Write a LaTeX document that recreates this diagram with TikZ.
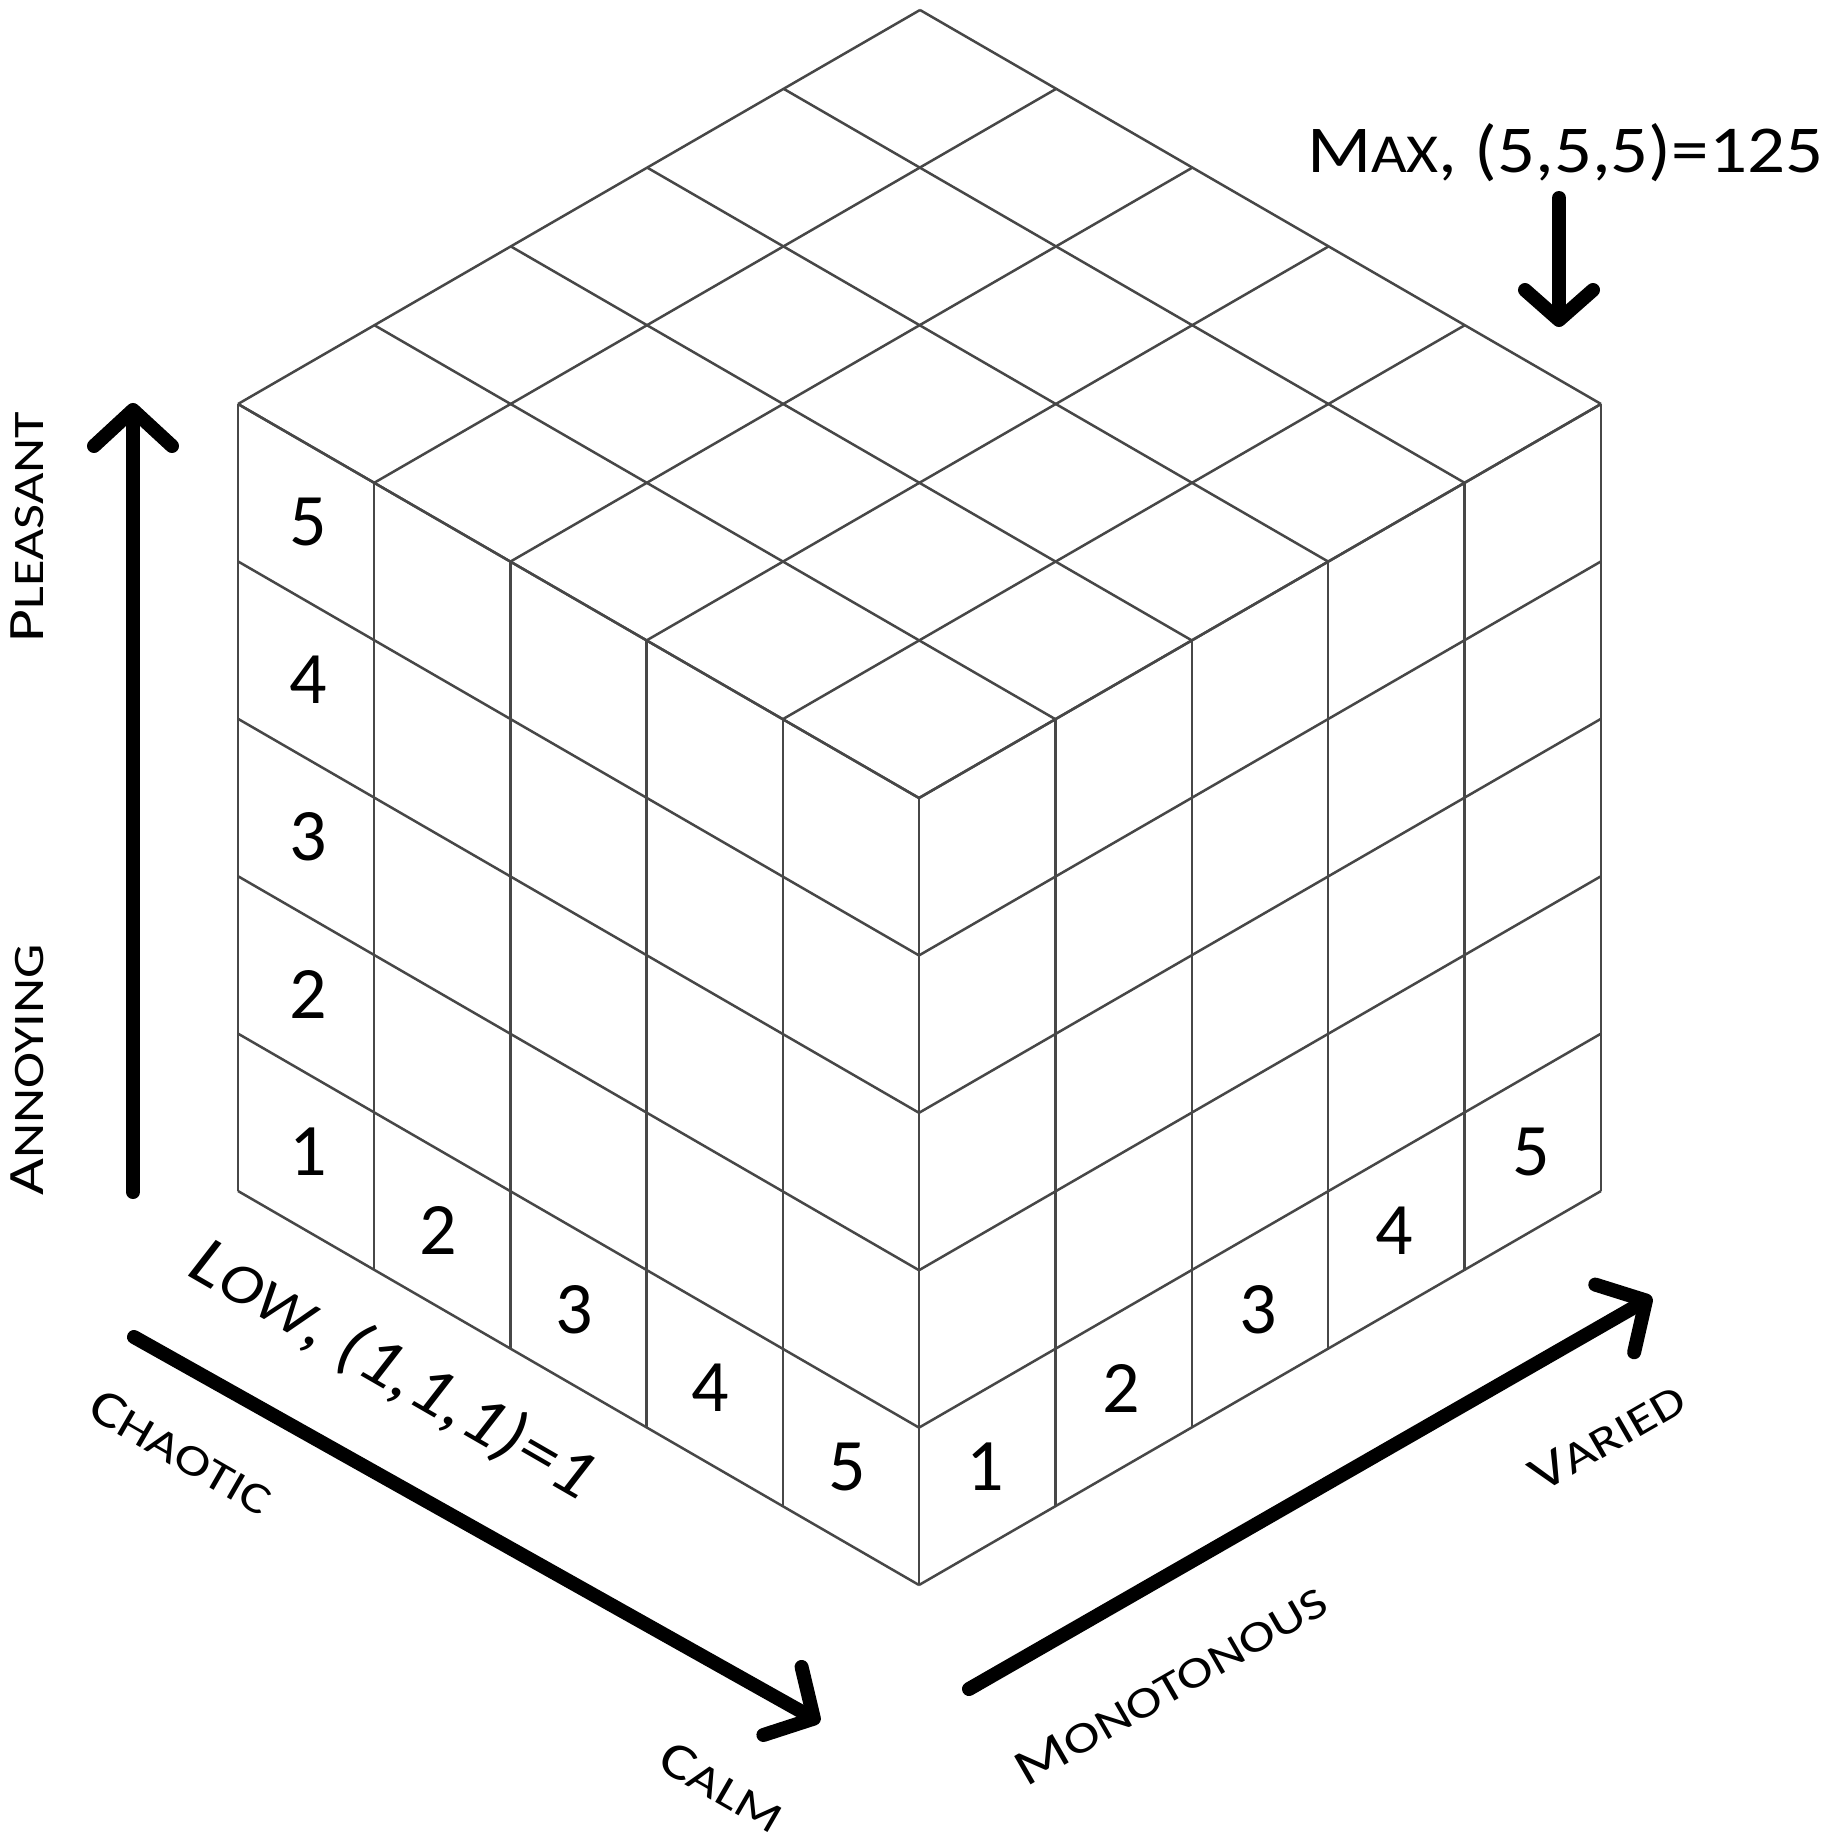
\documentclass[tikz,border=0pt]{standalone}
\usepackage{fontspec}
\setmainfont{Carlito}
\newfontfamily\lblfont[FakeStretch=1.25]{Carlito}
\newfontfamily\maxfont[FakeStretch=1.12]{Carlito}
\newfontfamily\lowfont[FakeStretch=1.12]{Carlito}
\usetikzlibrary{arrows.meta}
\newcommand\axlbl[2]{{\lblfont\fontsize{51}{51}\selectfont #1\fontsize{43.5}{43.5}\selectfont #2}}
\begin{document}
\begin{tikzpicture}[x=1pt,y=-1pt,
  grid/.style={draw=black!72, line width=2.5pt},
  bigarrow/.style={line width=14pt, line cap=round, -{Straight Barb[length=36pt,width=78pt,round]}},
  num/.style={inner sep=0pt, font=\fontsize{74}{74}\selectfont},
  axis/.style={inner sep=0pt},
]
\useasboundingbox (0,0) rectangle (1835,1841);
\fill[white] (0,0) rectangle (1835,1841);

% left face
\foreach \k in {0,...,5} \draw[grid] (238,{1191-157.4*\k}) -- ++(681,394);
\foreach \i in {0,...,5} \draw[grid] ({238+136.2*\i},{1191+78.8*\i}) -- ++(0,-787);
% right face
\foreach \k in {0,...,5} \draw[grid] (919,{1585-157.4*\k}) -- ++(682,-394);
\foreach \j in {0,...,5} \draw[grid] ({919+136.4*\j},{1585-78.8*\j}) -- ++(0,-787);
% top face
\foreach \j in {0,...,5} \draw[grid] ({238+136.4*\j},{404-78.8*\j}) -- ++(681,394);
\foreach \i in {0,...,5} \draw[grid] ({238+136.2*\i},{404+78.8*\i}) -- ++(682,-394);

% numbers, left column
\foreach \k [evaluate=\k as \n using int(\k+1)] in {0,...,4}
  \node[num] (lc\n) at (308,{1191+39.4-157.4*(\k+0.5)}) {\n};
% numbers, left bottom row
\foreach \i [evaluate=\i as \n using int(\i+1)] in {1,...,4}
  \node[num] (lb\n) at ({238+136.2*(\i+0.5)-4},{1191+78.8*(\i+0.5)-78.7}) {\n};
% numbers, right bottom row
\foreach \j [evaluate=\j as \n using int(\j+1)] in {0,...,4}
  \node[num] (rb\n) at ({919+136.4*(\j+0.5)-2},{1585-78.8*(\j+0.5)-78.7}) {\n};

% arrows
\coordinate (va1) at (133,1192);
\coordinate (va2) at (133,403);
\draw[bigarrow] (va1) -- (va2);
\coordinate (ma1) at (1559,198);
\coordinate (ma2) at (1559,327);
\draw[line width=14pt, line cap=round, -{Straight Barb[length=30pt,width=68pt,round]}] (ma1) -- (ma2);
\coordinate (ca1) at (134,1337);
\coordinate (ca2) at (820,1722);
\draw[bigarrow] (ca1) -- (ca2);
\coordinate (mv1) at (969,1689);
\coordinate (mv2) at (1652,1297);
\draw[bigarrow] (mv1) -- (mv2);

% labels
\node[axis, rotate=90] (pleasant) at (27,527) {\axlbl{P}{LEASANT}};
\node[axis, rotate=90] (annoying) at (27,1070) {\axlbl{A}{NNOYING}};
\node[axis, rotate=-30] (chaotic) at (181,1452) {\axlbl{C}{HAOTIC}};
\node[axis, rotate=-30] (calm) at (722,1787) {\axlbl{C}{ALM}};
\node[axis, rotate=30] (monot) at (1171,1685) {\axlbl{M}{ONOTONOUS}};
\node[axis, rotate=30] (varied) at (1607,1437) {\axlbl{V}{ARIED}};
\node[inner sep=0pt, anchor=base] (maxl) at (1565,172)
  {\maxfont\fontsize{67}{67}\selectfont M{\fontsize{55}{55}\selectfont AX}, (5,5,5)=125};
\node[inner sep=0pt, rotate=-30] (lowl) at (393,1370)
  {\lowfont\itshape\fontsize{70}{70}\selectfont L{\fontsize{58}{58}\selectfont OW}, (1,1,1)=1};
\end{tikzpicture}
\end{document}
